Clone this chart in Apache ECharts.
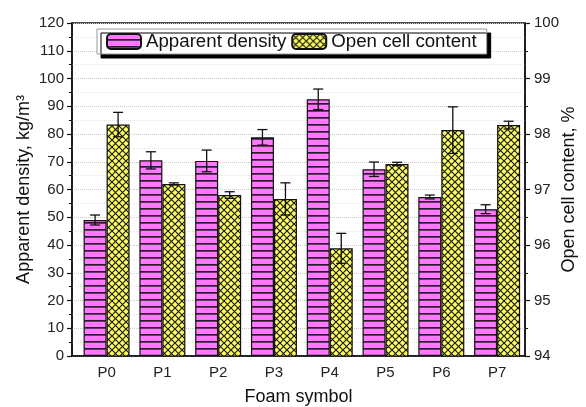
<!DOCTYPE html>
<html>
<head>
<meta charset="utf-8">
<script src="https://cdn.jsdelivr.net/npm/echarts@6/dist/echarts.min.js"></script>
<style>html,body{margin:0;padding:0;background:#fff;overflow:hidden}#c{width:100vw;height:100vh}</style>
</head>
<body>
<div id="c"></div>
<script>
const categories = ['P0','P1','P2','P3','P4','P5','P6','P7'];
const density = [49.0, 70.5, 70.3, 78.8, 92.5, 67.3, 57.3, 52.9];
const densityErr = [1.8, 3.1, 3.9, 2.8, 3.7, 2.6, 0.7, 1.6];
const openCell = [98.17, 97.10, 96.90, 96.83, 95.94, 97.46, 98.07, 98.16];
const openCellErr = [0.22, 0.02, 0.06, 0.29, 0.27, 0.03, 0.42, 0.07];
const catIndex = categories.map((c,i)=>i);

const BW = 23;
function stripe(){
  const c=document.createElement('canvas'); c.width=7; c.height=7;
  const g=c.getContext('2d'); g.fillStyle='#ff78ff'; g.fillRect(0,0,7,7);
  g.fillStyle='#2a1a2a'; g.fillRect(0,5,7,1.7); return c;
}
function hatch(){
  const n=7; const c=document.createElement('canvas'); c.width=n; c.height=n;
  const g=c.getContext('2d'); g.fillStyle='#ffff5e'; g.fillRect(0,0,n,n);
  g.strokeStyle='#1a1a1a'; g.lineWidth=1.2;
  g.beginPath();
  g.moveTo(-1,-1); g.lineTo(n+1,n+1);
  g.moveTo(n+1,-1); g.lineTo(-1,n+1);
  g.stroke(); return c;
}
const pinkPat={image:stripe(),repeat:'repeat'};
const yellowPat={image:hatch(),repeat:'repeat'};

function errSeries(vals, errs, side, axisIdx){
  return {
    type:'custom', yAxisIndex:axisIdx, z:10, silent:true,
    data: vals.map((v,i)=>[catIndex[i],v,errs[i]]),
    renderItem:(params,api)=>{
      const i=api.value(0), v=api.value(1), e=api.value(2);
      const c=api.coord([i,v]);
      const t=api.coord([i,v+e]), b=api.coord([i,v-e]);
      const x=c[0]+side*BW/2, w=5;
      const st={stroke:'#111',lineWidth:1.3};
      return {type:'group',children:[
        {type:'line',shape:{x1:x,y1:t[1],x2:x,y2:b[1]},style:st},
        {type:'line',shape:{x1:x-w,y1:t[1],x2:x+w,y2:t[1]},style:st},
        {type:'line',shape:{x1:x-w,y1:b[1],x2:x+w,y2:b[1]},style:st}
      ]};
    }
  };
}

const chart=echarts.init(document.getElementById('c'));
const txt='#222';
chart.setOption({
  animation:false,
  textStyle:{fontFamily:'Liberation Sans, Arial, sans-serif'},
  grid:{left:72,right:61,top:23,bottom:51,outerBoundsMode:'none',containLabel:false,
        show:true,borderColor:'#111',borderWidth:1.5,backgroundColor:'transparent'},
  legend:{
    left:97, top:29, padding:[3,10,3,9], itemGap:5,
    itemWidth:34, itemHeight:15,
    backgroundColor:'#fff', borderColor:'#999', borderWidth:1,
    shadowColor:'#000', shadowBlur:0, shadowOffsetX:4, shadowOffsetY:4,
    textStyle:{fontSize:18.7,color:'#111',fontFamily:'Liberation Sans, Arial, sans-serif'},
    data:['Apparent density','Open cell content']
  },
  xAxis:{
    type:'value', min:-0.62, max:7.5,
    axisLine:{show:true,onZero:false,lineStyle:{color:'#111',width:1.5}},
    axisTick:{show:false},
    splitLine:{show:false},
    axisLabel:{fontSize:15,color:txt,margin:9,customValues:catIndex,
      formatter:v=>categories[Math.round(v)]||''},
    name:'Foam symbol', nameLocation:'middle', nameGap:32,
    nameTextStyle:{fontSize:18,color:'#111'}
  },
  yAxis:[{
    type:'value', min:0, max:120, interval:10,
    axisLine:{show:true,onZero:false,lineStyle:{color:'#111',width:1.5}},
    axisTick:{show:true,inside:false,length:5,lineStyle:{color:'#111',width:1.2}},
    minorTick:{show:true,splitNumber:2,length:3,lineStyle:{color:'#111',width:1}},
    axisLabel:{fontSize:15,color:txt,margin:8},
    splitLine:{show:true,lineStyle:{color:'#c8c8c8',type:'dotted',width:1}},
    minorSplitLine:{show:true,lineStyle:{color:'#e6e6e6',type:'dotted',width:1}},
    name:'Apparent density, kg/m³', nameLocation:'middle', nameGap:39, nameMoveOverlap:false,
    nameTextStyle:{fontSize:18,color:'#111'}
  },{
    type:'value', min:94, max:100, interval:1, position:'right',
    axisLine:{show:true,onZero:false,lineStyle:{color:'#111',width:1.5}},
    axisTick:{show:true,inside:false,length:5,lineStyle:{color:'#111',width:1.2}},
    minorTick:{show:true,splitNumber:2,length:3,lineStyle:{color:'#111',width:1}},
    axisLabel:{fontSize:15,color:txt,margin:9},
    splitLine:{show:false},
    name:'Open cell content, %', nameLocation:'middle', nameGap:35, nameMoveOverlap:false,
    nameRotate:90,
    nameTextStyle:{fontSize:18,color:'#111'}
  }],
  series:[
    {name:'Apparent density',type:'bar',data:density.map((v,i)=>[catIndex[i],v]),barWidth:BW,barGap:'0%',yAxisIndex:0,
     itemStyle:{color:pinkPat,borderColor:'#111',borderWidth:1.2}},
    {name:'Open cell content',type:'bar',data:openCell.map((v,i)=>[catIndex[i],v]),barWidth:BW,barGap:'0%',yAxisIndex:1,
     itemStyle:{color:yellowPat,borderColor:'#111',borderWidth:1.2}},
    errSeries(density,densityErr,-1,0),
    errSeries(openCell,openCellErr,1,1)
  ]
});
</script>
</body>
</html>
